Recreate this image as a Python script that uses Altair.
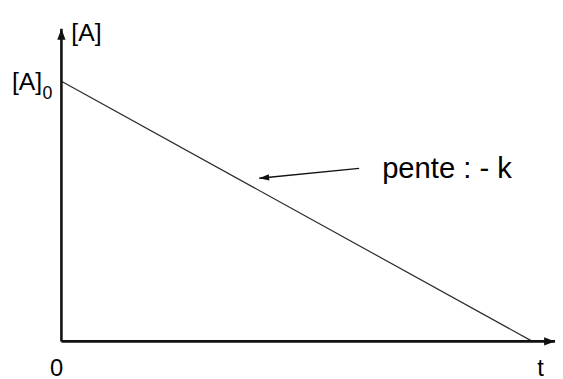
import math
import altair as alt
import pandas as pd

# Concentration vs time (zero-order kinetics), normalised units
t_vals = [0.0, 1.0]
a_vals = [1.0, 0.0]

# visible extent of the axes (arrow tips)
x_max = 1.048
y_max = 1.2015

# axis segments (start/end in data space)
seg_x = [0.0, 0.0]
seg_x2 = [x_max, 0.0]
seg_y = [0.0, 0.0]
seg_y2 = [0.0, y_max]

# annotation arrow: tail -> head
ann_tail = (0.632, 0.665)
ann_head = (0.420, 0.627)

# text labels
lab_text = ["[A]", "[A]", "0", "0", "t", "pente : - k"]
lab_x = [0.021, -0.105, -0.040, -0.024, 1.0105, 0.681]
lab_y = [1.156, 0.966, 0.933, -0.133, -0.133, 0.627]
lab_fs = [25, 25, 18, 24, 24, 29.5]

W, H = 499, 316
xs = alt.Scale(domain=[0, x_max], nice=False, zero=False)
ys = alt.Scale(domain=[0, y_max], nice=False, zero=False)
X = lambda f: alt.X(f, scale=xs, axis=None)
Y = lambda f: alt.Y(f, scale=ys, axis=None)

line_df = pd.DataFrame({"t": t_vals, "A": a_vals})
line = alt.Chart(line_df).mark_line(color="#2a2a2a", strokeWidth=1.2).encode(
    x=X("t:Q"), y=Y("A:Q")
)

seg_df = pd.DataFrame({"x": seg_x, "x2": seg_x2, "y": seg_y, "y2": seg_y2})
axes = alt.Chart(seg_df).mark_rule(color="#111", strokeWidth=2.6).encode(
    x=X("x:Q"), x2="x2:Q", y=Y("y:Q"), y2="y2:Q"
)

tips = alt.Chart(pd.DataFrame({"x": [x_max], "y": [0.0]})).mark_point(
    shape="M0,0L-1,-0.38L-1,0.38Z", filled=True, opacity=1, color="#111", size=484
).encode(x=X("x:Q"), y=Y("y:Q"))
tipu = alt.Chart(pd.DataFrame({"x": [0.0], "y": [y_max]})).mark_point(
    shape="M0,0L-0.38,1L0.38,1Z", filled=True, opacity=1, color="#111", size=484
).encode(x=X("x:Q"), y=Y("y:Q"))

ann_df = pd.DataFrame({"x": [ann_tail[0]], "y": [ann_tail[1]],
                       "x2": [ann_head[0]], "y2": [ann_head[1]]})
ann_line = alt.Chart(ann_df).mark_rule(color="#111", strokeWidth=1.3).encode(
    x=X("x:Q"), x2="x2:Q", y=Y("y:Q"), y2="y2:Q"
)
dxp = (ann_head[0] - ann_tail[0]) * W / x_max
dyp = -(ann_head[1] - ann_tail[1]) * H / y_max
ang = (math.degrees(math.atan2(dyp, dxp)) - 180) % 360
ann_head_mark = alt.Chart(pd.DataFrame({"x": [ann_head[0]], "y": [ann_head[1]]})).mark_point(
    shape="M0,0L1,-0.32L1,0.32Z", filled=True, opacity=1, color="#111", size=400, angle=ang
).encode(x=X("x:Q"), y=Y("y:Q"))

lab_df = pd.DataFrame({"text": lab_text, "x": lab_x, "y": lab_y, "fs": lab_fs})
labels = alt.Chart(lab_df).mark_text(
    align="left", baseline="alphabetic", font="Liberation Sans", color="#000"
).encode(x=X("x:Q"), y=Y("y:Q"), text="text:N", size=alt.Size("fs:Q", scale=None))

chart = alt.layer(line, axes, tips, tipu, ann_line, ann_head_mark, labels).properties(
    width=W, height=H,
    autosize=alt.AutoSizeParams(type="none"),
    padding={"left": 54, "top": 19, "right": 0, "bottom": 36},
    background="white",
).configure_view(stroke=None)

chart.save("out.html", embed_options={"renderer": "svg", "actions": False})
